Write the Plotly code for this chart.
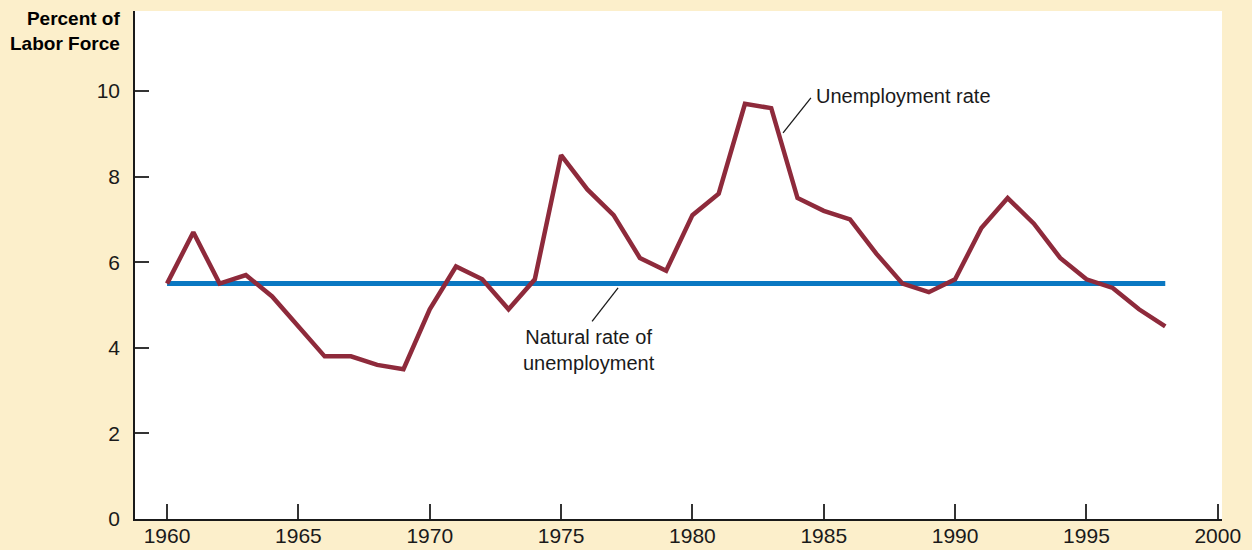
import plotly.graph_objects as go

# Annual civilian unemployment rate, percent of labor force
years = list(range(1960, 1999))
unemployment = [5.5, 6.7, 5.5, 5.7, 5.2, 4.5, 3.8, 3.8, 3.6, 3.5,
                 4.9, 5.9, 5.6, 4.9, 5.6, 8.5, 7.7, 7.1, 6.1, 5.8,
                 7.1, 7.6, 9.7, 9.6, 7.5, 7.2, 7.0, 6.2, 5.5, 5.3,
                 5.6, 6.8, 7.5, 6.9, 6.1, 5.6, 5.4, 4.9, 4.5]
natural_rate = 5.5

x_ticks = [1960, 1965, 1970, 1975, 1980, 1985, 1990, 1995, 2000]
y_ticks = [0, 2, 4, 6, 8, 10]

BEIGE = "#FCEFCB"
MAROON = "#8E2A3B"
BLUE = "#0A78C2"
INK = "#1a1a1a"
FONT = "Liberation Sans, Arial, sans-serif"

fig = go.Figure()

fig.add_trace(go.Scatter(
    x=[years[0], years[-1]], y=[natural_rate, natural_rate],
    mode="lines", line=dict(color=BLUE, width=5), hoverinfo="skip",
))
fig.add_trace(go.Scatter(
    x=years, y=unemployment,
    mode="lines", line=dict(color=MAROON, width=4.5), hoverinfo="skip",
))

# Leader lines for the two labels
fig.add_shape(type="line", x0=1983.45, y0=9.02, x1=1984.51, y1=9.84,
              line=dict(color=INK, width=1.3))
fig.add_shape(type="line", x0=1976.18, y0=4.62, x1=1977.17, y1=5.40,
              line=dict(color=INK, width=1.3))

fig.add_annotation(x=1984.62, y=9.88, text="Unemployment rate", showarrow=False,
                   xanchor="left", yanchor="middle",
                   font=dict(family=FONT, size=20, color=INK))
fig.add_annotation(x=1976.07, y=3.94, text="Natural rate of<br>unemployment",
                   showarrow=False, xanchor="center", yanchor="middle", align="center",
                   font=dict(family=FONT, size=20, color=INK))

fig.add_annotation(xref="paper", yref="paper", x=-0.0117, y=1.010,
                   text="<b>Percent of<br>Labor Force</b>", showarrow=False,
                   xanchor="right", yanchor="top", align="right",
                   font=dict(family=FONT, size=19, color="#000000"))

fig.update_xaxes(range=[1958.78, 2000.16], tickvals=x_ticks,
                 ticks="inside", ticklen=15, tickwidth=1.5, tickcolor="#333333",
                 showline=True, linecolor=INK, linewidth=1.5,
                 showgrid=False, zeroline=False, automargin=False,
                 ticklabelstandoff=-3,
                 tickfont=dict(family=FONT, size=21, color=INK))
fig.update_yaxes(range=[0, 11.87], tickvals=y_ticks,
                 ticks="inside", ticklen=14, tickwidth=1.5, tickcolor="#333333",
                 showline=True, linecolor=INK, linewidth=1.5,
                 showgrid=False, zeroline=False, ticklabelstandoff=9,
                 automargin=False,
                 tickfont=dict(family=FONT, size=21, color=INK))

fig.update_layout(
    width=1252, height=550,
    margin=dict(l=135, r=30, t=11, b=31),
    paper_bgcolor=BEIGE, plot_bgcolor="#FFFFFF",
    showlegend=False,
)

fig.write_html("out.html")
